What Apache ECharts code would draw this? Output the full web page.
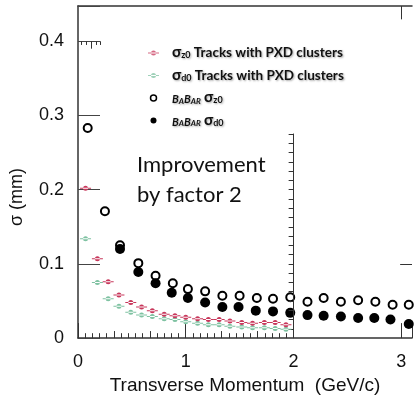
<!DOCTYPE html>
<html>
<head>
<meta charset="utf-8">
<script src="https://cdn.jsdelivr.net/npm/echarts@6/dist/echarts.min.js"></script>
<style>
html, body { margin: 0; padding: 0; background: #fff; }
#chart { width: 415px; height: 400px; }
</style>
</head>
<body>
<div id="chart"></div>
<script>
// Belle II (PXD) points, shared momentum bins
var belleP = [0.07, 0.18, 0.28, 0.38, 0.49, 0.59, 0.69, 0.80, 0.90, 1.00,
              1.11, 1.21, 1.31, 1.41, 1.52, 1.62, 1.73, 1.83, 1.93];
var belleZ0 = [0.202, 0.107, 0.076, 0.058, 0.048, 0.042, 0.037, 0.032, 0.030, 0.028,
               0.026, 0.025, 0.025, 0.023, 0.021, 0.020, 0.021, 0.021, 0.018];
var belleD0 = [0.134, 0.075, 0.053, 0.043, 0.035, 0.031, 0.029, 0.026, 0.025, 0.022,
               0.020, 0.018, 0.018, 0.016, 0.015, 0.014, 0.014, 0.013, 0.012];

// BaBar points
var babarP = [0.09, 0.25, 0.39, 0.56, 0.72, 0.88, 1.02, 1.18, 1.34, 1.50,
              1.66, 1.81, 1.97, 2.13, 2.28, 2.44, 2.60, 2.76, 2.92, 3.07];
var babarZ0 = [0.283, 0.171, 0.125, 0.101, 0.084, 0.074, 0.066, 0.063, 0.057, 0.057,
               0.054, 0.053, 0.055, 0.049, 0.054, 0.049, 0.051, 0.049, 0.045, 0.045];
var babarD0P = [0.39, 0.56, 0.72, 0.87, 1.02, 1.18, 1.34, 1.49, 1.65, 1.81,
                1.97, 2.13, 2.28, 2.44, 2.60, 2.75, 2.90, 3.07];
var babarD0 = [0.120, 0.089, 0.074, 0.061, 0.054, 0.048, 0.042, 0.042, 0.037, 0.036,
               0.034, 0.031, 0.030, 0.029, 0.027, 0.027, 0.025, 0.019];

var yTicks = [0, 0.1, 0.2, 0.3, 0.4];
var xTicks = [0, 1, 2, 3];

var names = ['σz0 Tracks with PXD clusters', 'σd0 Tracks with PXD clusters',
             'BaBar σz0', 'BaBar σd0'];

function pairs(xs, ys) {
    return xs.map(function (x, i) { return [x, ys[i]]; });
}

// dot with horizontal error bar
var barDot = 'path://M0,2H11V3H0Z M3,2.5A2.5,2.5,0,1,0,8,2.5A2.5,2.5,0,1,0,3,2.5Z';

var Y_MAX = 0.4475, X_MAX = 3.1;

// frame details of the overlaid plots
var segs = [];
function seg(x1, y1, x2, y2) { segs.push([{ coord: [x1, y1] }, { coord: [x2, y2] }]); }
seg(2, 0, 2, 0.2756);
for (var k = 1; k <= 22; k++) seg(1.955, k * 0.0125, 2, k * 0.0125);
for (var m = 1; m < 30; m++) {
    if (m === 15) continue;
    seg(m / 15, 0, m / 15, (m % 5 === 0) ? 0.0095 : 0.0066);
}
[0.028, 0.074, 0.12, 0.166, 0.202].forEach(function (x) {
    seg(x, 0.4, x, x === 0.12 ? 0.39 : 0.395);
});
seg(2.99, 0.1, X_MAX, 0.1);
seg(3, Y_MAX, 3, Y_MAX - 0.018);

var chart = echarts.init(document.getElementById('chart'));

var txt = { fontFamily: 'Lato', fontWeight: 'bold', color: '#111' };
function rs(extra) { return Object.assign({}, txt, extra); }

var option = {
    animation: false,
    title: {
        text: 'Improvement\nby factor 2',
        left: 137,
        top: 150,
        padding: 0,
        textStyle: {
            fontFamily: 'Lato',
            fontWeight: 'normal',
            fontSize: 22,
            lineHeight: 30,
            color: '#111'
        }
    },
    legend: {
        orient: 'vertical',
        left: 143,
        top: 40,
        itemWidth: 11,
        itemHeight: 6,
        itemGap: 7.5,
        data: [
            { name: names[0], icon: barDot, itemStyle: { opacity: 0.75 } },
            { name: names[1], icon: barDot, itemStyle: { opacity: 0.75 } },
            { name: names[2], icon: 'circle', itemStyle: { color: '#fff', borderColor: '#000', borderWidth: 1.5 } },
            { name: names[3], icon: 'circle', itemStyle: { color: '#000' } }
        ],
        formatter: function (n) {
            var sub = n.indexOf('z0') >= 0 ? 'z0' : 'd0';
            if (n.indexOf('BaBar') === 0) {
                return '{b|B}{sc|A}{b|B}{sc|AR} {s|σ}{sub|' + sub + '}';
            }
            return '{s|σ}{sub|' + sub + '}{t| Tracks with PXD clusters}';
        },
        textStyle: {
            padding: [0, 0, 0, 8],
            textShadowColor: 'rgba(0,0,0,0.35)',
            textShadowBlur: 2,
            textShadowOffsetX: 1,
            textShadowOffsetY: 1,
            rich: {
                s: rs({ fontSize: 15, lineHeight: 14, verticalAlign: 'bottom' }),
                sub: rs({ fontSize: 9, lineHeight: 9, verticalAlign: 'bottom' }),
                t: rs({ fontSize: 13.5, lineHeight: 14, verticalAlign: 'bottom' }),
                b: rs({ fontStyle: 'italic', fontSize: 11, lineHeight: 13, verticalAlign: 'bottom' }),
                sc: rs({ fontStyle: 'italic', fontSize: 8, lineHeight: 10, verticalAlign: 'bottom' })
            }
        }
    },
    grid: {
        left: 78,
        right: 0,
        top: 6,
        bottom: 53
    },
    xAxis: [{
        type: 'value',
        min: 0,
        max: X_MAX,
        interval: 1,
        name: 'Transverse Momentum  (GeV/c)',
        nameLocation: 'middle',
        nameGap: 34,
        nameTextStyle: { fontFamily: 'Liberation Sans', fontSize: 19, color: '#111' },
        axisLine: { lineStyle: { color: '#333', width: 1.5 } },
        axisTick: { inside: true, length: 15, lineStyle: { color: '#333' } },
        axisLabel: {
            margin: 15,
            fontFamily: 'Liberation Sans',
            fontSize: 18,
            color: '#111',
            formatter: function (v) { return xTicks.indexOf(v) >= 0 ? String(v) : ''; }
        },
        splitLine: { show: false }
    }, {
        type: 'value',
        position: 'top',
        min: 0,
        max: X_MAX,
        axisLine: { show: true, onZero: false, lineStyle: { color: '#333', width: 1.5 } },
        axisTick: { show: false },
        axisLabel: { show: false },
        splitLine: { show: false }
    }],
    yAxis: {
        type: 'value',
        min: 0,
        max: Y_MAX,
        interval: 0.1,
        name: 'σ (mm)',
        nameLocation: 'middle',
        nameGap: 52,
        nameTextStyle: { fontFamily: 'Liberation Sans', fontSize: 18, color: '#111', padding: [0, 50, 0, 0] },
        axisLine: { show: true, lineStyle: { color: '#333', width: 1.5 } },
        axisTick: { inside: true, length: 22, lineStyle: { color: '#444' } },
        axisLabel: {
            margin: 14,
            fontFamily: 'Liberation Sans',
            fontSize: 18,
            color: '#111',
            formatter: function (v) {
                for (var i = 0; i < yTicks.length; i++) {
                    if (Math.abs(v - yTicks[i]) < 1e-6) return String(yTicks[i]);
                }
                return '';
            }
        },
        splitLine: { show: false }
    },
    series: [{
        name: names[2],
        type: 'scatter',
        symbol: 'circle',
        symbolSize: 8,
        itemStyle: { color: '#fff', borderColor: '#000', borderWidth: 2, opacity: 1 },
        data: pairs(babarP, babarZ0),
        z: 3
    }, {
        name: names[3],
        type: 'scatter',
        symbol: 'circle',
        symbolSize: 10,
        itemStyle: { color: '#000', opacity: 1 },
        data: pairs(babarD0P, babarD0),
        z: 4
    }, {
        name: names[1],
        type: 'scatter',
        symbol: barDot,
        symbolSize: [11, 5],
        itemStyle: { color: '#7fc2a2', opacity: 1 },
        data: pairs(belleP, belleD0),
        z: 5
    }, {
        name: names[0],
        type: 'scatter',
        symbol: barDot,
        symbolSize: [11, 5],
        itemStyle: { color: '#c8385c', opacity: 1 },
        data: pairs(belleP, belleZ0),
        z: 6
    }, {
        type: 'line',
        data: [],
        silent: true,
        markLine: {
            silent: true,
            symbol: ['none', 'none'],
            label: { show: false },
            lineStyle: { color: '#333', width: 1, type: 'solid' },
            emphasis: { disabled: true },
            data: segs
        }
    }]
};

chart.setOption(option);
</script>
</body>
</html>
